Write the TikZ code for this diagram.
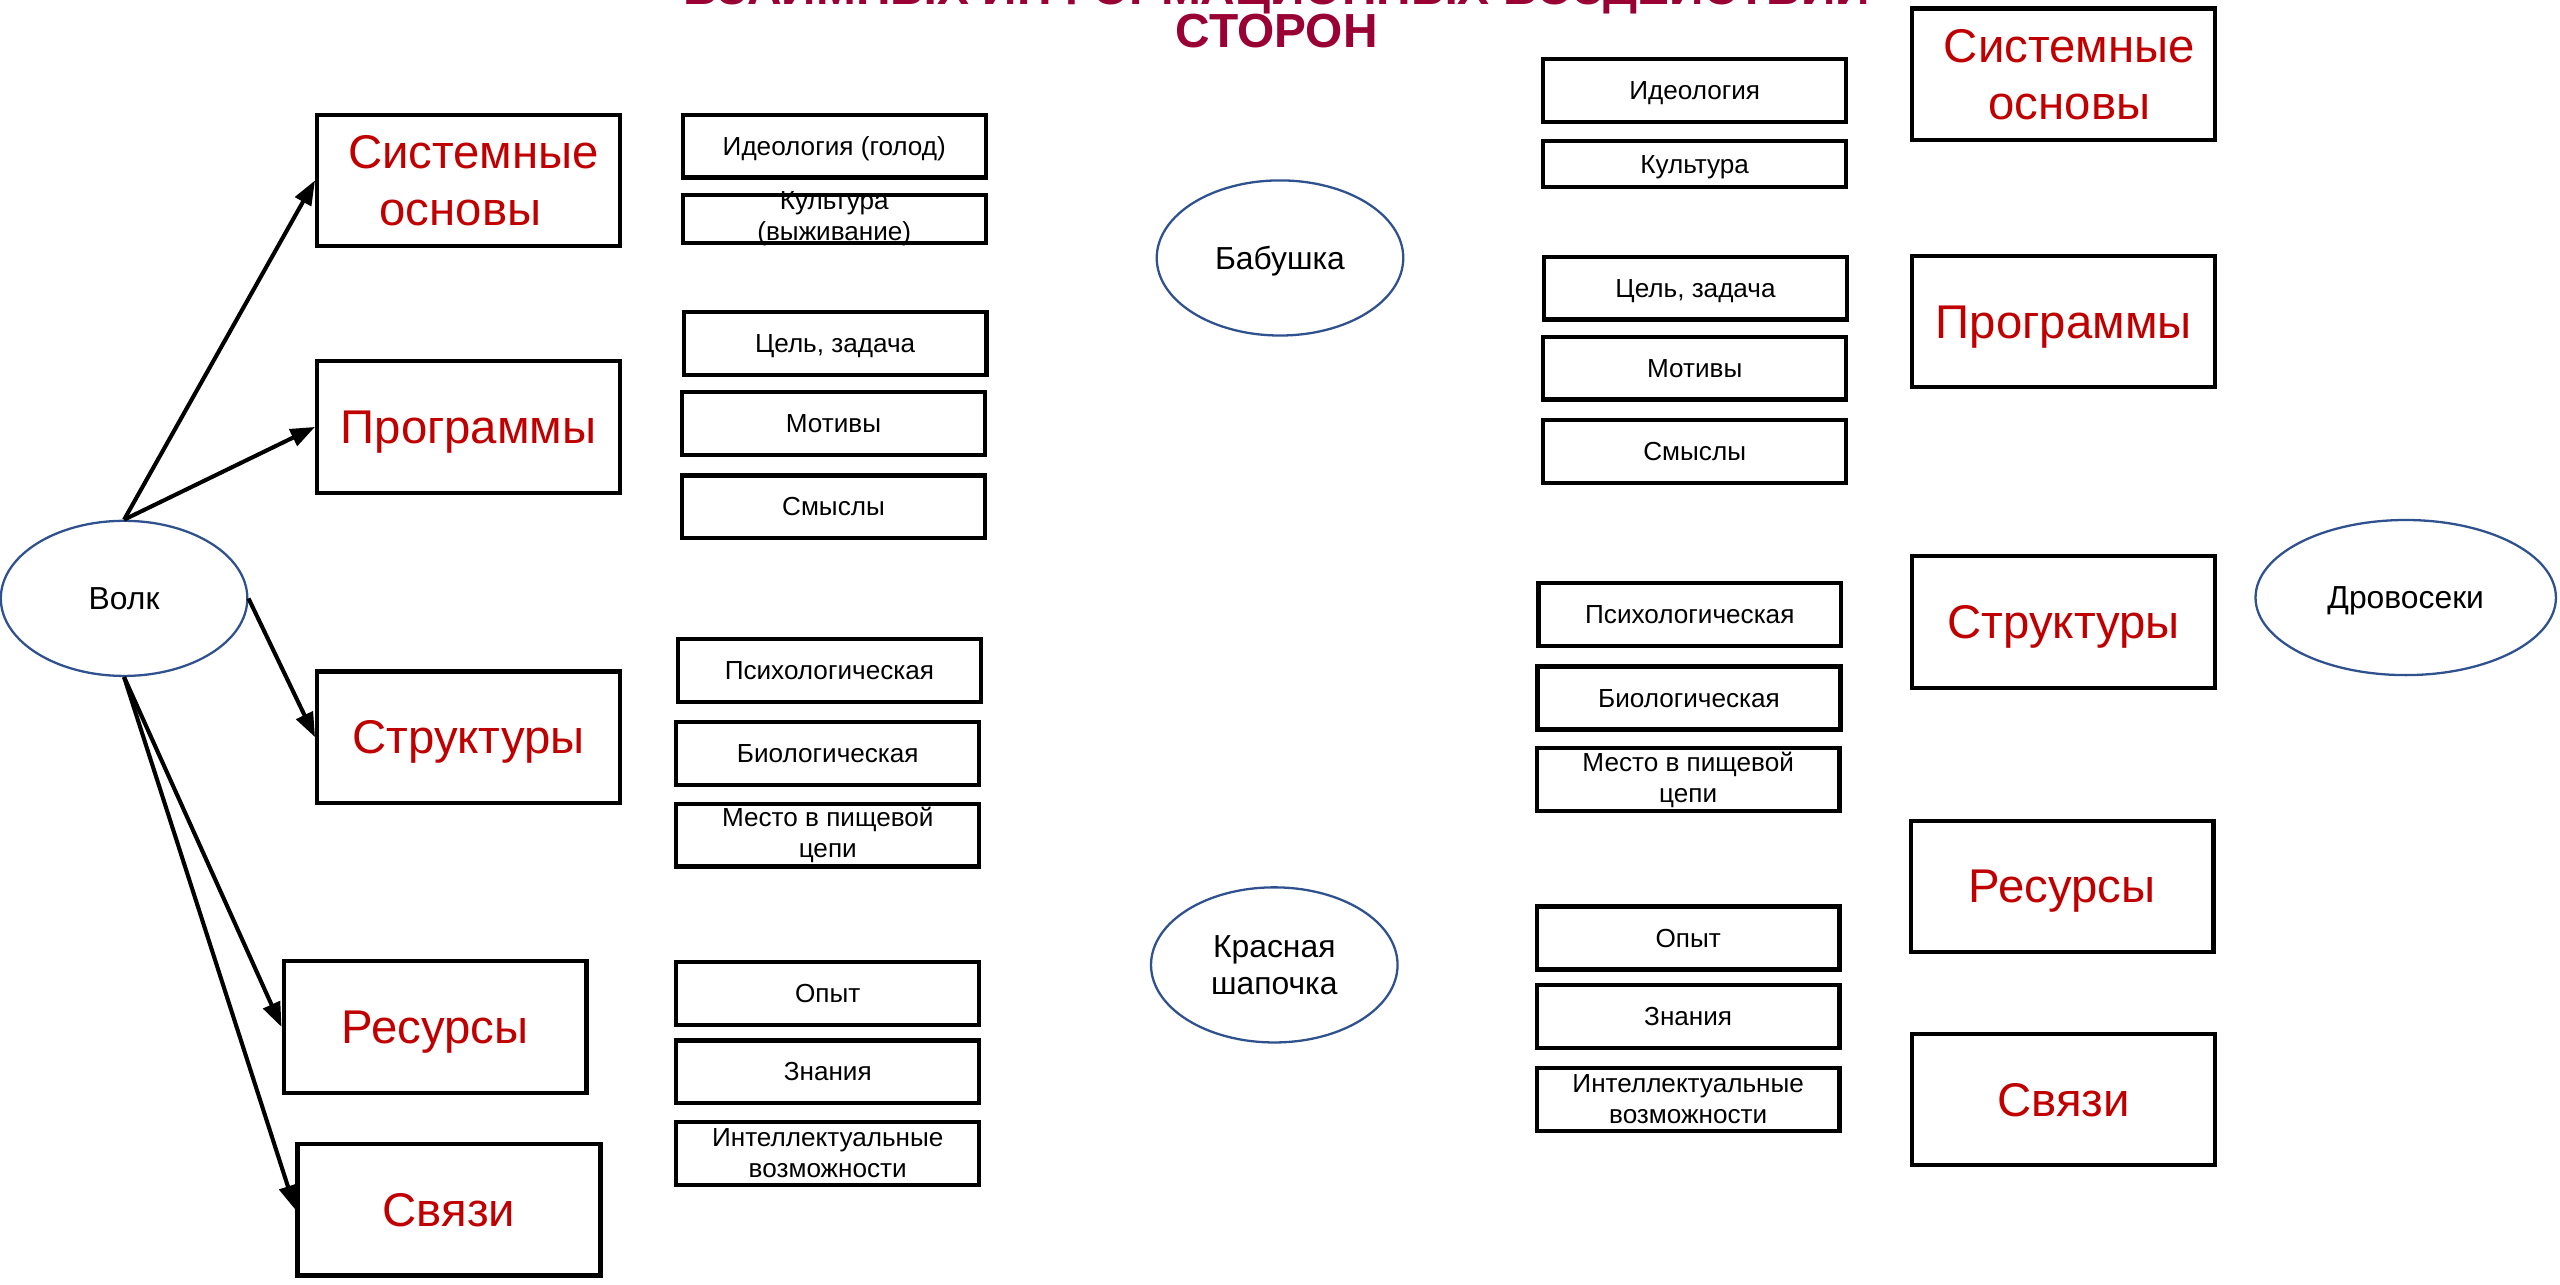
\documentclass[tikz,border=0pt]{standalone}
\usepackage{fontspec}
\setmainfont{Liberation Sans}
\usetikzlibrary{arrows.meta,shapes.geometric}
\definecolor{boxred}{HTML}{C00000}
\definecolor{titlered}{HTML}{990033}
\definecolor{ellblue}{HTML}{2F528F}
\begin{document}
\begin{tikzpicture}[x=1pt,y=-1pt,
  bigbox/.style={draw, line width=2.6pt, minimum width=185.5pt, minimum height=80.5pt, inner sep=0pt, text=boxred, align=center, font=\fontsize{29}{35}\selectfont},
  bigone/.style={bigbox, text height=26.25pt, text depth=6.15pt},
  smallbox/.style={draw, line width=2.6pt, minimum width=185.5pt, minimum height=38.5pt, inner sep=0pt, align=center, font=\fontsize{16}{19}\selectfont},
  smallone/.style={smallbox, text height=14.48pt, text depth=3.39pt},
  boxtext/.style={inner sep=0pt, align=center, font=\fontsize{16}{19}\selectfont},
  actor/.style={ellipse, draw=ellblue, line width=1.4pt, inner sep=0pt, align=center, font=\fontsize{19.5}{22.5}\selectfont, minimum width=151pt, minimum height=95pt},
  actorone/.style={actor, text height=17.65pt, text depth=4.13pt},
  arr/.style={-{Triangle[length=15pt,width=11pt]}, line width=2.5pt},
  titletext/.style={text=titlered, font=\bfseries\fontsize{29.3}{29}\selectfont, inner sep=0pt}
]
\useasboundingbox (0,0) rectangle (1568,787);

% title (top line cut by the page edge)
\node[titletext, anchor=base] (t1) at (782,2.5) {ВЗАИМНЫХ ИНФОРМАЦИОННЫХ ВОЗДЕЙСТВИЙ};
\node[titletext, anchor=base] (t2) at (782,29) {СТОРОН};

% actors
\node[actorone] (wolf) at (76,366.5) {Волк};
\node[actorone] (bab) at (784,158) {Бабушка};
\node[actor] (shap) at (780.5,591) {Красная\\шапочка};
\node[actorone, minimum width=184pt] (drov) at (1473.5,366) {Дровосеки};

% left big boxes
\node[bigbox] (ls) at (287,110.5) {\hspace*{6pt}Системные\\основы\hspace*{10pt}};
\node[bigone] (lp) at (287,261.5) {Программы};
\node[bigone] (lst) at (287,451.5) {Структуры};
\node[bigone] (lr) at (266.5,629) {Ресурсы};
\node[bigone] (lc) at (275,741) {Связи};

% left small boxes
\node[smallone] (li1) at (511,89.5) {Идеология (голод)};
\node[smallbox, minimum height=29.5pt] (li2) at (511,134) {};
\node[boxtext] (li2t) at (511,133.9) {Культура\\(выживание)};
\node[smallone] (lp1) at (511.5,210.5) {Цель, задача};
\node[smallone] (lp2) at (510.5,259.5) {Мотивы};
\node[smallone] (lp3) at (510.5,310.5) {Смыслы};
\node[smallone] (ls1) at (508,410.5) {Психологическая};
\node[smallone] (ls2) at (507,461.5) {Биологическая};
\node[smallbox] (ls3) at (507,511.5) {Место в пищевой\\цепи};
\node[smallone] (lr1) at (507,608.5) {Опыт};
\node[smallone] (lr2) at (507,656.5) {Знания};
\node[smallbox] (lr3) at (507,706.5) {Интеллектуальные\\возможности};

% right small boxes
\node[smallone] (ri1) at (1038,55.5) {Идеология};
\node[smallone, minimum height=28.5pt] (ri2) at (1038,100.5) {Культура};
\node[smallone] (rp1) at (1038.5,176.5) {Цель, задача};
\node[smallone] (rp2) at (1038,225.5) {Мотивы};
\node[smallone] (rp3) at (1038,276.5) {Смыслы};
\node[smallone] (rs1) at (1035,376.5) {Психологическая};
\node[smallone] (rs2) at (1034.5,427.5) {Биологическая};
\node[smallbox] (rs3) at (1034,477.5) {Место в пищевой\\цепи};
\node[smallone] (rr1) at (1034,574.5) {Опыт};
\node[smallone] (rr2) at (1034,622.5) {Знания};
\node[smallbox] (rr3) at (1034,673.5) {Интеллектуальные\\возможности};

% right big boxes
\node[bigbox] (rsb) at (1264,45.5) {\hspace*{7pt}Системные\\\hspace*{7pt}основы};
\node[bigone] (rpb) at (1264,197) {Программы};
\node[bigone] (rstb) at (1264,381) {Структуры};
\node[bigone] (rrb) at (1263,543) {Ресурсы};
\node[bigone] (rcb) at (1264,673.5) {Связи};

% arrows from the wolf
\draw[arr] (wolf.north) -- (ls.west);
\draw[arr] (wolf.north) -- (lp.west);
\draw[arr] (wolf.east) -- (lst.west);
\draw[arr] (wolf.south) -- (lr.west);
\draw[arr] (wolf.south) -- (lc.west);
\end{tikzpicture}
\end{document}
